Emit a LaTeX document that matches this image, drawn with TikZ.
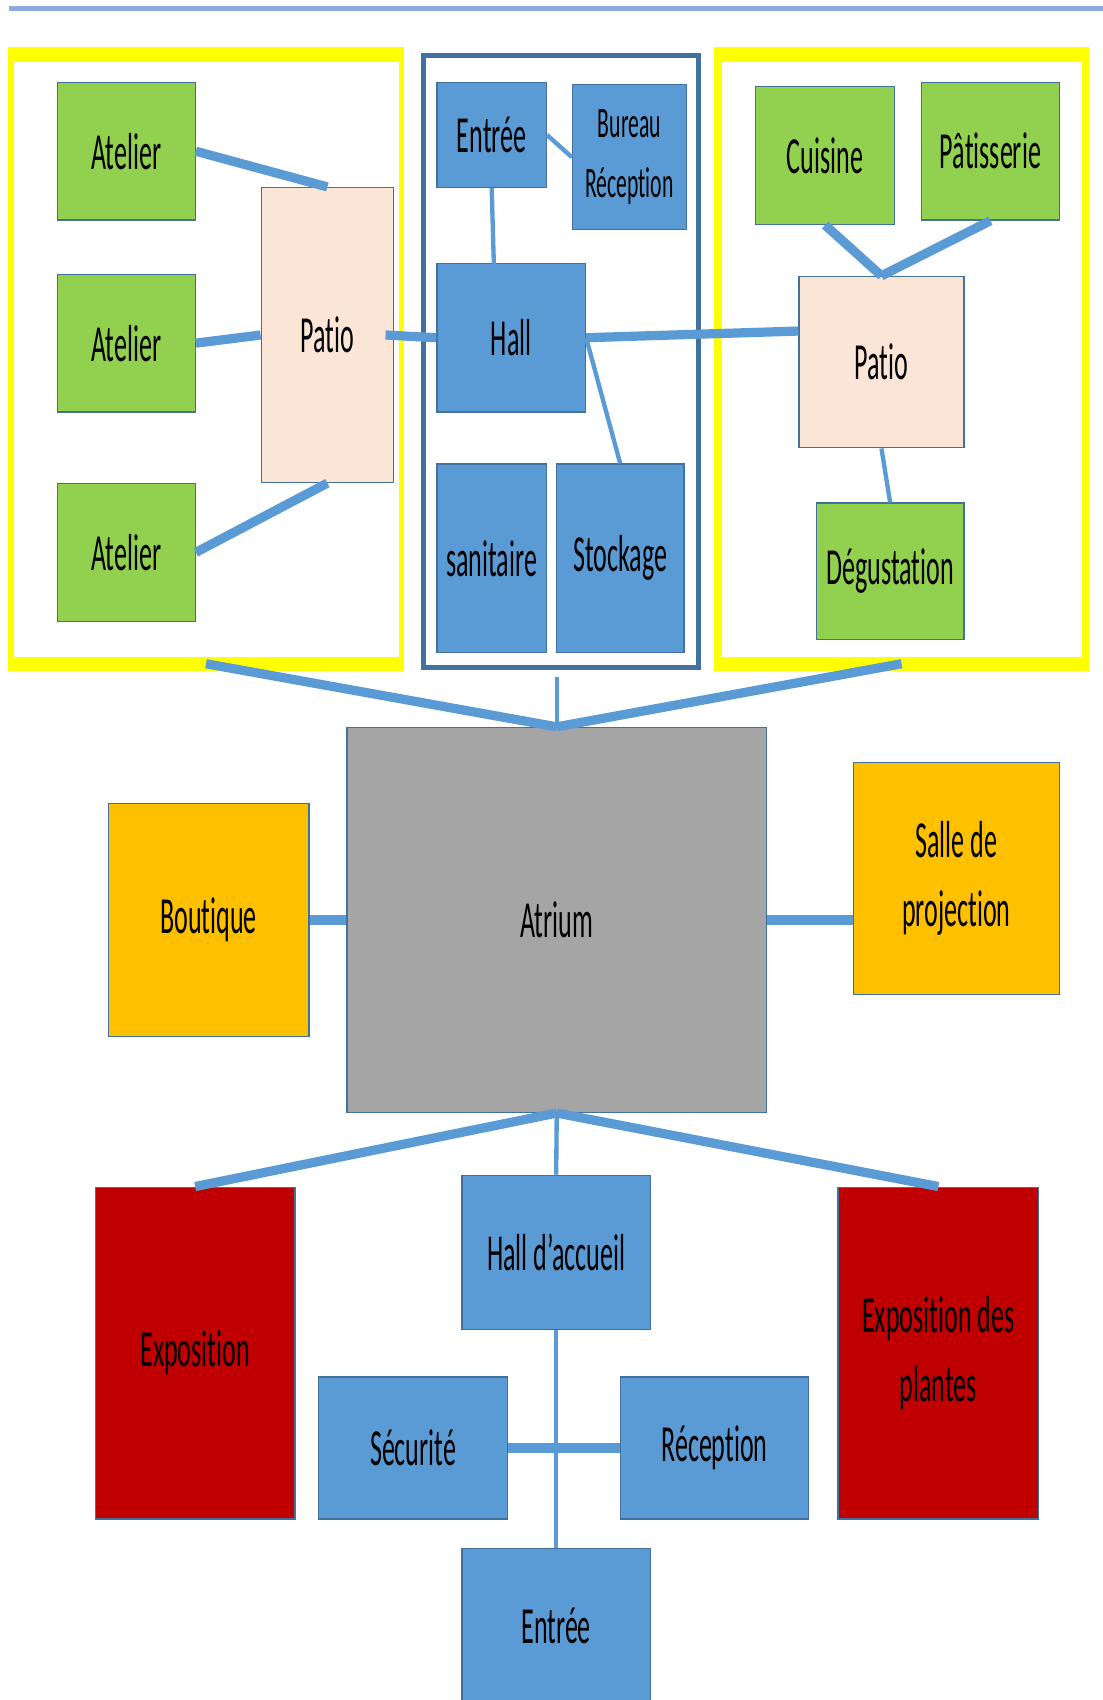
\documentclass[tikz,border=0pt]{standalone}
\usepackage{fontspec}
\newfontfamily\condf[FakeStretch=0.5,RawFeature={-liga;-clig;-dlig;-calt}]{Carlito}
\usetikzlibrary{calc}
\definecolor{cgreen}{HTML}{92D050}
\definecolor{cblue}{HTML}{5B9BD5}
\definecolor{cpeach}{HTML}{FBE5D6}
\definecolor{cgrey}{HTML}{A5A5A5}
\definecolor{cgold}{HTML}{FFC000}
\definecolor{cred}{HTML}{C00000}
\definecolor{cyel}{HTML}{FFFF00}
\definecolor{bord}{HTML}{41719C}
\definecolor{topc}{HTML}{8EAADB}
\newcommand{\mkbox}[7]{\node[#6, minimum width={(#4-#2)*1pt}, minimum height={(#5-#3)*1pt}] (#1) at ({(#2+#4)/2},{(#3+#5)/2}) {#7};}
\begin{document}
\begin{tikzpicture}[x=1pt,y=-1pt,
  room/.style={draw=bord, line width=1.2pt, inner sep=0pt, align=center, text=black,
    font=\condf\fontsize{48}{64}\selectfont},
  gr/.style={room, fill=cgreen},
  bl/.style={room, fill=cblue},
  pe/.style={room, fill=cpeach},
  gy/.style={room, fill=cgrey},
  go/.style={room, fill=cgold},
  rd/.style={room, fill=cred},
  yframe/.style={fill=cyel, inner sep=0pt},
  bframe/.style={draw=bord, line width=4.5pt, inner sep=0pt},
  thick link/.style={draw=cblue, line width=8.5pt},
  thin link/.style={draw=cblue, line width=4pt}]
\useasboundingbox (0,0) rectangle (1017,1568);
\fill[white] (0,0) rectangle (1017,1568);
% top rule
\draw[topc, line width=5pt] (8,8) -- (1017,8);
% group frames
\mkbox{leftG}{7}{43}{373}{619}{yframe}{}
\fill[white] (13,57) rectangle (368,606);
\mkbox{rightG}{659}{43}{1004}{619}{yframe}{}
\fill[white] (666,57) rectangle (998,606);
\mkbox{midG}{391}{51}{644}{616}{bframe}{}
% left group
\mkbox{a1}{53}{76}{180}{203}{gr}{Atelier}
\mkbox{a2}{53}{253}{180}{380}{gr}{Atelier}
\mkbox{a3}{53}{446}{180}{573}{gr}{Atelier}
\mkbox{patioL}{241}{173}{363}{445}{pe}{Patio}
% middle group
\mkbox{entreeT}{403}{76}{504}{173}{bl}{Entrée}
\mkbox{bureau}{528}{78}{633}{212}{bl, font=\condf\fontsize{40}{56}\selectfont}{Bureau\\Réception}
\mkbox{hall}{403}{243}{540}{380}{bl}{Hall}
\mkbox{sanit}{403}{428}{504}{602}{bl}{sanitaire}
\mkbox{stock}{513}{428}{631}{602}{bl}{Stockage}
% right group
\mkbox{cuisine}{697}{80}{825}{207}{gr}{Cuisine}
\mkbox{patis}{850}{76}{977}{203}{gr}{Pâtisserie}
\mkbox{patioR}{737}{255}{889}{413}{pe}{Patio}
\mkbox{degust}{753}{464}{889}{590}{gr}{Dégustation}
% centre
\mkbox{atrium}{320}{671}{707}{1026}{gy}{Atrium}
\mkbox{bout}{100}{741}{285}{956}{go}{Boutique}
\mkbox{salle}{787}{703}{977}{917}{go}{Salle de\\projection}
% bottom
\mkbox{expo}{88}{1095}{272}{1401}{rd}{Exposition}
\mkbox{plant}{773}{1095}{958}{1401}{rd}{Exposition des\\plantes}
\mkbox{hallacc}{426}{1084}{600}{1226}{bl}{Hall d’accueil}
\mkbox{secu}{294}{1270}{468}{1401}{bl}{Sécurité}
\mkbox{recep}{572}{1270}{746}{1401}{bl}{Réception}
\mkbox{entreeB}{426}{1428}{600}{1572}{bl}{Entrée}
% connectors: left group
\draw[thick link] (a1.east) -- (patioL.north);
\draw[thick link] (a2.east) -- ($(patioL.north west)!0.50!(patioL.south west)$);
\draw[thick link] (a3.east) -- (patioL.south);
\draw[thick link] ($(patioL.east)+(-8,0)$) -- (hall.west);
% middle group
\draw[thin link] ($(entreeT.north east)!0.5!(entreeT.south east)$) -- ($(bureau.north west)!0.5!(bureau.south west)$);
\draw[thin link] (entreeT.south) -- ($(entreeT.south)+(2,70)$);
\draw[thin link] (hall.east) -- (stock.north);
\draw[thick link] (hall.east) -- ($(patioR.north west)!0.32!(patioR.south west)$);
% right group
\draw[thick link] (cuisine.south) -- (patioR.north);
\draw[thick link] (patis.south) -- (patioR.north);
\draw[thin link] (patioR.south) -- (degust.north);
% groups to atrium
\draw[thick link] ($(leftG.south)+(0,-7)$) -- (atrium.north);
\draw[thick link] ($(rightG.south)+(0,-7)$) -- (atrium.north);
\draw[thin link] ($(atrium.north)+(0,-46)$) -- (atrium.north);
\draw[thick link] (bout.east) -- (atrium.west);
\draw[thick link] (atrium.east) -- (atrium.east -| salle.west);
% atrium to bottom
\draw[thick link] (atrium.south) -- (expo.north);
\draw[thick link] (atrium.south) -- (plant.north);
\draw[thin link] (atrium.south) -- (hallacc.north);
\draw[thin link] (hallacc.south) -- (entreeB.north);
\draw[thick link] (secu.east) -- (recep.west);
\end{tikzpicture}
\end{document}
